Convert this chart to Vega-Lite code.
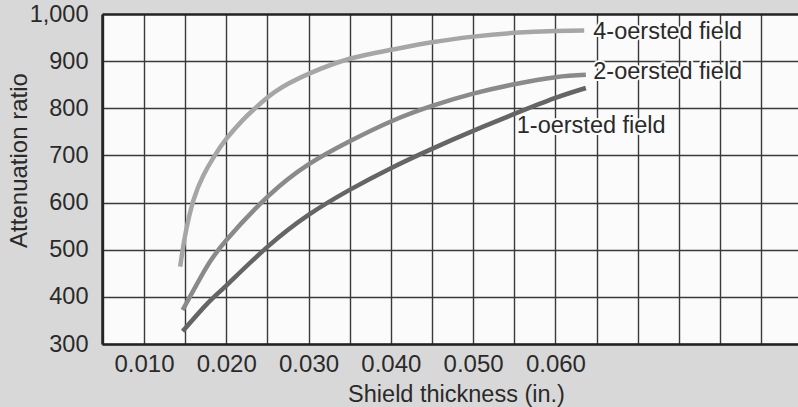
{
  "$schema": "https://vega.github.io/schema/vega-lite/v6.json",
  "width": 697,
  "height": 330,
  "autosize": {"type": "none"},
  "padding": {"left": 102, "top": 14, "right": 0, "bottom": 63},
  "background": "#d8d8d8",
  "config": {
    "view": {"fill": "#fbfbfb", "stroke": null},
    "font": "Liberation Sans",
    "text": {"font": "Liberation Sans"}
  },
  "datasets": {
    "curves": [
      {"field": "4-oersted field", "t": 0.0144, "r": 464},
      {"field": "4-oersted field", "t": 0.015, "r": 530},
      {"field": "4-oersted field", "t": 0.016, "r": 604},
      {"field": "4-oersted field", "t": 0.0172, "r": 657},
      {"field": "4-oersted field", "t": 0.0185, "r": 697},
      {"field": "4-oersted field", "t": 0.020, "r": 735},
      {"field": "4-oersted field", "t": 0.022, "r": 775},
      {"field": "4-oersted field", "t": 0.0235, "r": 800},
      {"field": "4-oersted field", "t": 0.026, "r": 836},
      {"field": "4-oersted field", "t": 0.030, "r": 873},
      {"field": "4-oersted field", "t": 0.035, "r": 905},
      {"field": "4-oersted field", "t": 0.040, "r": 924},
      {"field": "4-oersted field", "t": 0.045, "r": 940},
      {"field": "4-oersted field", "t": 0.050, "r": 952},
      {"field": "4-oersted field", "t": 0.055, "r": 960},
      {"field": "4-oersted field", "t": 0.060, "r": 964},
      {"field": "4-oersted field", "t": 0.0635, "r": 965},
      {"field": "2-oersted field", "t": 0.0147, "r": 372},
      {"field": "2-oersted field", "t": 0.0175, "r": 460},
      {"field": "2-oersted field", "t": 0.020, "r": 520},
      {"field": "2-oersted field", "t": 0.025, "r": 612},
      {"field": "2-oersted field", "t": 0.030, "r": 681},
      {"field": "2-oersted field", "t": 0.035, "r": 730},
      {"field": "2-oersted field", "t": 0.040, "r": 772},
      {"field": "2-oersted field", "t": 0.045, "r": 805},
      {"field": "2-oersted field", "t": 0.050, "r": 831},
      {"field": "2-oersted field", "t": 0.055, "r": 851},
      {"field": "2-oersted field", "t": 0.060, "r": 866},
      {"field": "2-oersted field", "t": 0.0637, "r": 871},
      {"field": "1-oersted field", "t": 0.0147, "r": 327},
      {"field": "1-oersted field", "t": 0.0175, "r": 382},
      {"field": "1-oersted field", "t": 0.020, "r": 424},
      {"field": "1-oersted field", "t": 0.025, "r": 506},
      {"field": "1-oersted field", "t": 0.030, "r": 574},
      {"field": "1-oersted field", "t": 0.035, "r": 627},
      {"field": "1-oersted field", "t": 0.040, "r": 673},
      {"field": "1-oersted field", "t": 0.045, "r": 714},
      {"field": "1-oersted field", "t": 0.050, "r": 752},
      {"field": "1-oersted field", "t": 0.055, "r": 788},
      {"field": "1-oersted field", "t": 0.060, "r": 822},
      {"field": "1-oersted field", "t": 0.0637, "r": 843}
    ],
    "labels": [
      {"label": "4-oersted field", "t": 0.0646, "r": 962},
      {"label": "2-oersted field", "t": 0.0646, "r": 878},
      {"label": "1-oersted field", "t": 0.0553, "r": 763}
    ]
  },
  "encoding": {
    "x": {
      "field": "t",
      "type": "quantitative",
      "scale": {"domain": [0.0049, 0.0896], "nice": false, "zero": false},
      "axis": {
        "values": [0.005, 0.01, 0.015, 0.02, 0.025, 0.03, 0.035, 0.04, 0.045, 0.05, 0.055, 0.06, 0.065, 0.07, 0.075, 0.08, 0.085],
        "labelExpr": "(round(datum.value*1000) % 10 == 0 && datum.value > 0.0095 && datum.value < 0.0605) ? format(datum.value, '.3f') : ''",
        "grid": true,
        "gridColor": "#3a3a3a",
        "gridWidth": 1.4,
        "gridOpacity": 1,
        "ticks": false,
        "tickSize": 0,
        "domainColor": "#222222",
        "domainWidth": 2.5,
        "labelFontSize": 24,
        "labelColor": "#2a2a2a",
        "labelPadding": 8,
        "labelDx": -5,
        "labelFlush": false,
        "labelOverlap": false,
        "title": "Shield thickness (in.)",
        "titleFontSize": 23.5,
        "titleFontWeight": "normal",
        "titleColor": "#2a2a2a",
        "titleX": 354,
        "titleY": 57,
        "titleBaseline": "alphabetic",
        "titleAlign": "center"
      }
    },
    "y": {
      "field": "r",
      "type": "quantitative",
      "scale": {"domain": [300, 1000], "nice": false, "zero": false},
      "axis": {
        "values": [300, 400, 500, 600, 700, 800, 900, 1000],
        "format": ",d",
        "grid": true,
        "gridColor": {"condition": {"test": "datum.value == 1000", "value": "#222222"}, "value": "#3a3a3a"},
        "gridWidth": {"condition": {"test": "datum.value == 1000", "value": 2.5}, "value": 1.4},
        "gridOpacity": 1,
        "ticks": false,
        "tickSize": 0,
        "domainColor": "#222222",
        "domainWidth": 2.5,
        "labelFontSize": 23.5,
        "labelColor": "#2a2a2a",
        "labelPadding": 14,
        "labelBaseline": "middle",
        "labelFlush": false,
        "labelOverlap": false,
        "title": "Attenuation ratio",
        "titleFontSize": 24,
        "titleFontWeight": "normal",
        "titleColor": "#2a2a2a",
        "titleAngle": -90,
        "titleX": -83,
        "titleY": 146,
        "titleAlign": "center",
        "titleBaseline": "middle"
      }
    }
  },
  "layer": [
    {
      "data": {"name": "curves"},
      "mark": {"type": "line", "strokeWidth": 4.5, "interpolate": "natural", "strokeCap": "butt"},
      "encoding": {
        "color": {
          "field": "field",
          "type": "nominal",
          "scale": {"domain": ["1-oersted field", "2-oersted field", "4-oersted field"], "range": ["#656565", "#8a8a8a", "#a6a6a6"]},
          "legend": null
        },
        "order": {"field": "t", "type": "quantitative"}
      }
    },
    {
      "data": {"name": "labels"},
      "mark": {"type": "text", "align": "left", "baseline": "middle", "fontSize": 23.5, "stroke": "#fbfbfb", "strokeWidth": 4, "strokeJoin": "round", "fill": "#fbfbfb"},
      "encoding": {"text": {"field": "label"}}
    },
    {
      "data": {"name": "labels"},
      "mark": {"type": "text", "align": "left", "baseline": "middle", "fontSize": 23.5, "fill": "#2a2a2a"},
      "encoding": {"text": {"field": "label"}}
    }
  ]
}
